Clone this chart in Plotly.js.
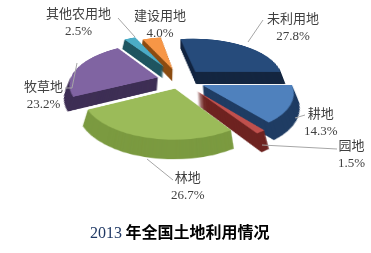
<!DOCTYPE html>
<html><head><meta charset="utf-8">
<script src="https://cdn.plot.ly/plotly-3.0.1.min.js"></script>
<style>
html,body{margin:0;padding:0;background:#fff;}
#wrap{position:relative;width:371px;height:253px;overflow:hidden;background:#fff;}
#pie{position:absolute;left:0;top:-43.2px;width:371px;height:274px;transform-origin:180px 123.2px;transform:perspective(520px) rotateX(62.6deg);}
#txt{position:absolute;left:0;top:0;width:371px;height:253px;}
</style></head><body>
<div id="wrap"><div id="pie"></div><div id="txt"></div></div>
<script>
// ---- data ----
const categories = ['未利用地','耕地','园地','林地','牧草地','其他农用地','建设用地'];
const shares = [27.8, 14.3, 1.5, 26.7, 23.2, 2.5, 4.0];
const titleYear = '2013';
const titleText = '年全国土地利用情况';

// ---- styles ----
const topColors  = ['#264b7b','#4f81bd','#c0504d','#9bbb59','#8064a2','#4bacc6','#f79646'];
const sideColors = ['#142640','#1f3c63','#6e2320','#7b9a40','#3e2f55','#1f5560','#8c4c12'];
const pulls = [0.28, 0.28, 0.32, 0.21, 0.26, 0.40, 0.29];

const W = 371, H = 274, depth = 27.6;
const dom = {x:[0.153, 0.817]};

const traces = [];
for (let k = 27; k >= 1; k--) {
  traces.push({
    type:'pie', labels:categories, values:shares, sort:false,
    direction:'clockwise', rotation:-10, pull:pulls,
    textinfo:'none', hoverinfo:'skip', showlegend:false,
    marker:{colors:sideColors, line:{width:0}},
    domain:{x:dom.x, y:[(depth-k)/H, (H-k)/H]}
  });
}
traces.push({
  type:'pie', labels:categories, values:shares, sort:false,
  direction:'clockwise', rotation:-10, pull:pulls,
  textinfo:'none', hoverinfo:'skip', showlegend:false,
  marker:{colors:topColors, line:{width:0}},
  domain:{x:dom.x, y:[depth/H, 1]}
});

Plotly.newPlot('pie', traces, {
  width:W, height:H, margin:{l:0,r:0,t:0,b:0},
  paper_bgcolor:'rgba(0,0,0,0)', plot_bgcolor:'rgba(0,0,0,0)', showlegend:false
}, {staticPlot:true, displayModeBar:false});

// ---- labels overlay ----
const labelPos = [[293,25],[321,120],[351,152],[188,184],[43,93],[78,20],[160,22]];
const leaderLines = [
  [[263,20],[248,42]],
  [[305,115],[295,118]],
  [[262,145],[337,149]],
  [[147,159],[173,180]],
  [[65,88],[72,88],[77,63]],
  [[118,18],[135,37]],
  []
];
const annotations = categories.map((c,i)=>({
  x:labelPos[i][0], y:labelPos[i][1], xref:'x', yref:'y',
  xanchor:'center', yanchor:'middle', showarrow:false, align:'center',
  text:c + '<br><span style="font-family:\'Liberation Serif\'">' + shares[i].toFixed(1) + '%</span>',
  font:{family:'Noto Sans CJK SC', size:13, color:'#404040'}
}));
annotations.push({
  x:180, y:231, xref:'x', yref:'y', xanchor:'center', yanchor:'middle', showarrow:false,
  text:'<span style="font-family:\'Liberation Serif\';color:#1f3864">' + titleYear + '</span> <b>' + titleText + '</b>',
  font:{family:'Noto Sans CJK SC', size:16, color:'#000'}
});
const shapes = [];
leaderLines.forEach(pts=>{
  for (let j=0;j<pts.length-1;j++){
    shapes.push({type:'line', xref:'x', yref:'y', x0:pts[j][0], y0:pts[j][1], x1:pts[j+1][0], y1:pts[j+1][1],
      line:{color:'#a6a6a6', width:1}});
  }
});
Plotly.newPlot('txt', [], {
  width:371, height:253, margin:{l:0,r:0,t:0,b:0},
  paper_bgcolor:'rgba(0,0,0,0)', plot_bgcolor:'rgba(0,0,0,0)',
  xaxis:{range:[0,371], visible:false, fixedrange:true},
  yaxis:{range:[253,0], visible:false, fixedrange:true},
  annotations:annotations, shapes:shapes, showlegend:false
}, {staticPlot:true, displayModeBar:false});
</script>
</body></html>
